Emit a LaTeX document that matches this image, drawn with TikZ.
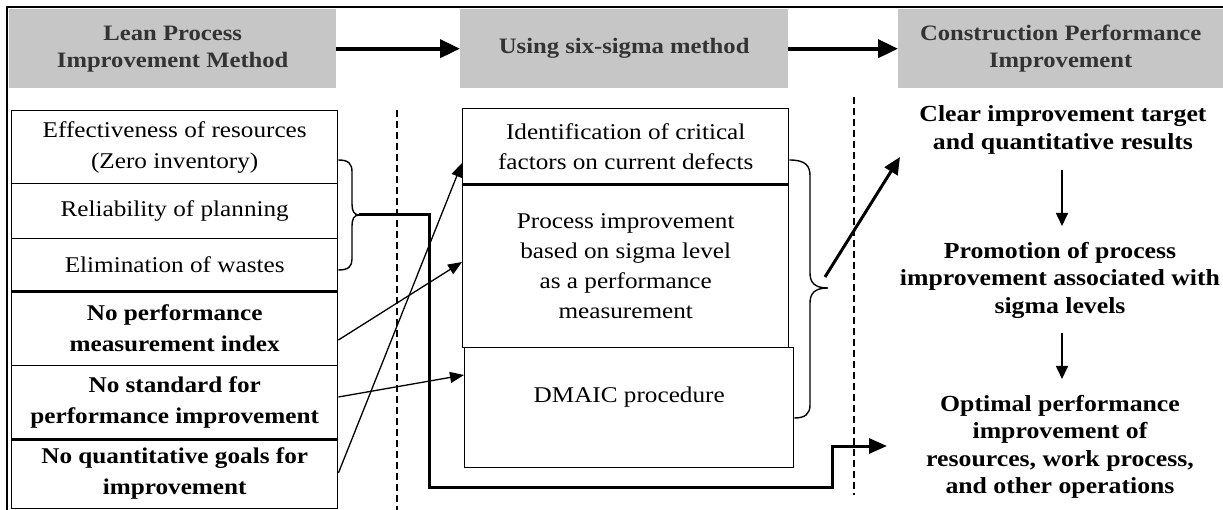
\documentclass[tikz,border=0pt]{standalone}
\usepackage{fontspec}
\setmainfont{Liberation Serif}[FakeStretch=1.12]
\usetikzlibrary{arrows.meta}
\definecolor{headgray}{HTML}{C6C6C6}
\definecolor{headtext}{HTML}{333333}

\begin{document}
\begin{tikzpicture}[x=1pt,y=-1pt,
  header/.style={fill=headgray, inner sep=0, align=center, anchor=north west,
    minimum height=79pt, text=headtext,
    font=\fontsize{22}{27}\selectfont\bfseries},
  cell/.style={draw, line width=1.4pt, inner sep=0, align=center, anchor=north west},
  plain/.style={font=\fontsize{22.5}{31}\selectfont},
  strong/.style={font=\fontsize{22.5}{31}\selectfont\bfseries},
  midtext/.style={font=\fontsize{22.5}{30}\selectfont},
  outcome/.style={align=center, inner sep=0, font=\fontsize{23}{27.5}\selectfont\bfseries},
  flow/.style={line width=4pt, -{Triangle[length=20pt, width=18pt]}},
  link/.style={line width=1.3pt, -{Triangle[length=14pt, width=11pt]}},
  route/.style={line width=3pt, -{Triangle[length=18pt, width=15pt]}},
  lead/.style={line width=3pt, -{Triangle[length=17pt, width=15pt]}},
  down/.style={line width=1.6pt, -{Triangle[length=13pt, width=12pt]}},
  divider/.style={line width=1.5pt, dash pattern=on 7pt off 4pt},
  curly/.style={line width=1.4pt}]

\useasboundingbox (0,0) rectangle (1223,510);

% outer frame (top and left edges)
\draw[line width=2pt] (7,510) -- (7,7) -- (1223,7);

% column headers
\node[header, minimum width=327pt] (h1) at (9,9) {Lean Process\\Improvement Method};
\node[header, minimum width=328pt] (h2) at (460,9) {Using six-sigma method};
\node[header, minimum width=325pt] (h3) at (898,9) {Construction Performance\\Improvement};
\draw[flow] (h1.east) -- (h2.west);
\draw[flow] (h2.east) -- (h3.west);

% dashed column dividers
\coordinate (d1a) at (397,110);
\coordinate (d1b) at (397,510);
\coordinate (d2a) at (854,97);
\coordinate (d2b) at (854,495);
\draw[divider] (d1a) -- (d1b);
\draw[divider] (d2a) -- (d2b);

% lean process characteristics
\node[cell, plain, minimum width=326pt, minimum height=73pt] (l1) at (11,110)
  {Effectiveness of resources\\(Zero inventory)};
\node[cell, plain, minimum width=326pt, minimum height=55pt] (l2) at (11,183)
  {Reliability of planning};
\node[cell, plain, minimum width=326pt, minimum height=52pt] (l3) at (11,238)
  {Elimination of wastes};
\node[cell, strong, minimum width=326pt, minimum height=75pt] (l4) at (11,290)
  {No performance\\measurement index};
\node[cell, strong, minimum width=326pt, minimum height=73pt] (l5) at (11,365)
  {No standard for\\performance improvement};
\node[cell, strong, minimum width=326pt, minimum height=70pt] (l6) at (11,438)
  {No quantitative goals for\\improvement};
\draw[line width=3pt] (l3.south west) -- (l3.south east);
\draw[line width=3pt] (l5.south west) -- (l5.south east);

% six-sigma elements
\node[cell, midtext, minimum width=326pt, minimum height=75pt] (m1) at (462,108)
  {Identification of critical\\factors on current defects};
\node[cell, midtext, minimum width=326pt, minimum height=164pt] (m2) at (462,183)
  {Process improvement\\based on sigma level\\as a performance\\measurement};
\node[cell, midtext, minimum width=329pt, minimum height=120pt, text depth=26pt] (m3) at (464,347)
  {DMAIC procedure};
\draw[line width=2.6pt] (m1.south west) -- (m1.south east);

% brace grouping the first three lean items
\coordinate (b1) at (359,215);
\draw[curly] (l1.east |- 0,160) .. controls (349,160) and (352,164) .. (352,172)
  -- (352,204) .. controls (352,211) and (354,215) .. (b1)
  .. controls (354,215) and (352,219) .. (352,226)
  -- (352,259) .. controls (352,266) and (349,270) .. (l3.east |- 0,270);

% brace grouping the six-sigma elements
\coordinate (b2) at (828,288);
\draw[curly] (m1.east |- 0,160) .. controls (806,160) and (810,166) .. (810,176)
  -- (810,273) .. controls (810,283) and (815,288) .. (b2)
  .. controls (815,288) and (810,293) .. (810,303)
  -- (810,405) .. controls (810,414) and (805,418) .. (m3.east |- 0,418);

% links from missing lean features to six-sigma elements
\draw[link] (l6.east |- 0,473) -- (m1.west |- 0,163);
\draw[link] (l4.east |- 0,340) -- (m2.west |- 0,262);
\draw[link] (l5.east |- 0,397) -- (m3.west |- 0,375);

% performance outcomes
\node[outcome] (r1) at (1063,130) {Clear improvement target\\and quantitative results};
\node[outcome] (r2) at (1060,280) {Promotion of process\\improvement associated with\\sigma levels};
\node[outcome] (r3) at (1060,447) {Optimal performance\\improvement of\\resources, work process,\\and other operations};
\coordinate (a1s) at (1062,170);
\coordinate (a1e) at (1062,226);
\coordinate (a2s) at (1062,333);
\coordinate (a2e) at (1062,379);
\draw[down] (a1s) -- (a1e);
\draw[down] (a2s) -- (a2e);

% lean brace route to the final outcome
\coordinate (rt) at (887,446);
\draw[route] (b1) -- (429,215) -- (429,487) -- (832,487) -- (832,446) -- (rt);

% six-sigma brace to the first outcome
\coordinate (gs) at (825,277);
\coordinate (ge) at (900,157);
\draw[lead] (gs) -- (ge);
\end{tikzpicture}
\end{document}
